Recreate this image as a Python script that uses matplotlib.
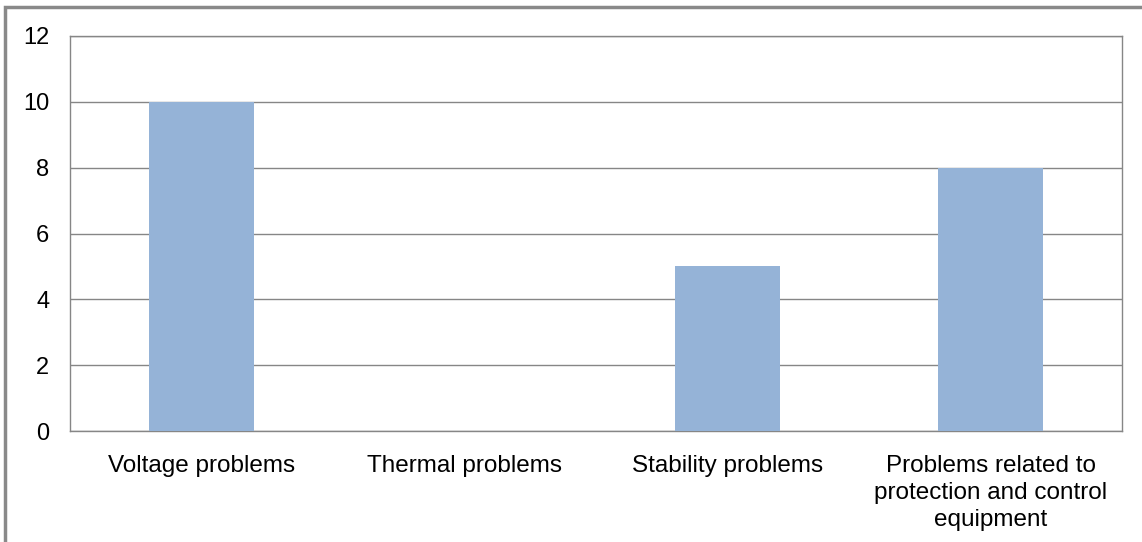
import matplotlib.pyplot as plt
from matplotlib.patches import Rectangle

categories = ["Voltage problems", "Thermal problems", "Stability problems",
              "Problems related to\nprotection and control\nequipment"]
values = [10, 0, 5, 8]
yticks = [0, 2, 4, 6, 8, 10, 12]

plt.rcParams['font.family'] = ['Liberation Sans', 'DejaVu Sans']

fig = plt.figure(figsize=(11.42, 5.42), dpi=100)
W, H = 1142, 542
ax = fig.add_axes([70 / W, 1 - 431 / H, (1122 - 70) / W, (431 - 36) / H])

ax.bar(range(len(categories)), values, width=0.4, color="#95B3D7", zorder=3)
ax.set_xlim(-0.5, len(categories) - 0.5)
ax.set_ylim(0, 12)
ax.set_yticks(yticks)
ax.set_xticks(range(len(categories)))
ax.set_xticklabels(categories, fontsize=17.5, linespacing=1.3)
ax.tick_params(axis='y', labelsize=17, length=0, pad=15)
ax.tick_params(axis='x', length=0, pad=17)
ax.grid(axis='y', color="#868686", linewidth=1, zorder=0)
for s in ax.spines.values():
    s.set_color("#868686")
    s.set_linewidth(1)

# outer frame (top and left edges visible)
fig.patches.append(Rectangle((5 / W, -0.1), 1.2, 1 - 7 / H + 0.1,
                             transform=fig.transFigure, fill=False,
                             edgecolor="#898989", linewidth=2.5))

fig.savefig("out.png", dpi=100)
